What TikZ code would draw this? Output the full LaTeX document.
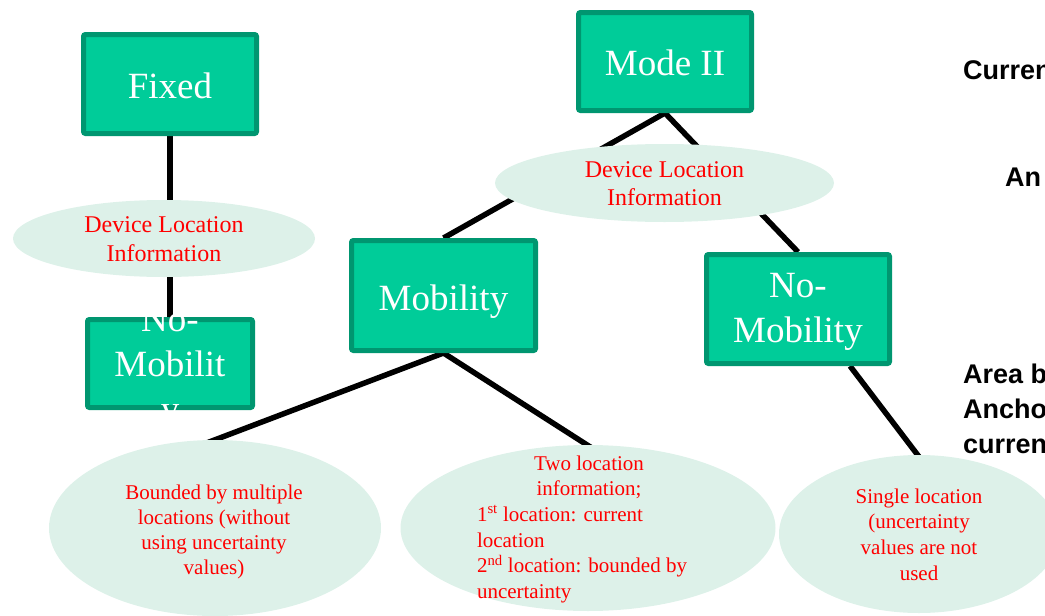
\documentclass[tikz,border=0pt]{standalone}
\usepackage{fontspec}
\setmainfont{Liberation Serif}
\setsansfont{Liberation Sans}
\usetikzlibrary{shapes.geometric,backgrounds}
\definecolor{boxfill}{RGB}{0,204,153}
\definecolor{boxline}{RGB}{0,150,112}
\definecolor{ovalfill}{RGB}{221,241,233}
\definecolor{redtxt}{RGB}{255,0,0}
\tikzset{
  greenbox/.style={draw=boxline, fill=boxfill, line width=5pt, rounded corners=2pt, inner sep=0pt},
  oval/.style={ellipse, fill=ovalfill, inner sep=0pt},
  boxtext/.style={text=white, font=\fontsize{37}{45}\selectfont, align=center, inner sep=0pt},
  ovaltext/.style={text=redtxt, font=\fontsize{21}{25.5}\selectfont, align=center, inner sep=0pt},
  sidetext/.style={font=\sffamily\bfseries\fontsize{27}{35}\selectfont, text=black, inner sep=0pt, align=left},
  conn/.style={line width=5.5pt, black},
}
\begin{document}
\begin{tikzpicture}[x=1pt,y=-1pt]
\useasboundingbox (0,0) rectangle (1045,616);

% green boxes
\node[greenbox, minimum width=173pt, minimum height=99pt] (fixed) at (170,84) {};
\node[greenbox, minimum width=165pt, minimum height=88pt] (nomobA) at (170,363.5) {};
\node[greenbox, minimum width=173pt, minimum height=98pt] (mode) at (665,61.5) {};
\node[greenbox, minimum width=184pt, minimum height=110pt] (mob) at (443.5,295.5) {};
\node[greenbox, minimum width=183pt, minimum height=109pt] (nomobB) at (798,309) {};

% ellipses
\node[oval, minimum width=302pt, minimum height=77pt] (infoA) at (164,238.5) {};
\node[oval, minimum width=339pt, minimum height=78pt] (infoB) at (664.5,183) {};
\node[oval, minimum width=332pt, minimum height=176pt] (bounded) at (215,528) {};
\node[oval, minimum width=375pt, minimum height=166pt] (two) at (588,528) {};
\node[oval, minimum width=280pt, minimum height=158pt] (single) at (919,534) {};

% connector end points hidden under the ellipses
\coordinate (endBounded) at (200,445.5);
\coordinate (endTwo) at (595,450);
\coordinate (endSingle) at (923,462);

% connectors
\begin{scope}[on background layer]
  \draw[conn] (fixed.south) -- (nomobA.north);
  \draw[conn] (mode.south) -- (mob.north);
  \draw[conn] (mode.south) -- (nomobB.north);
  \draw[conn] (mob.south) -- (endBounded);
  \draw[conn] (mob.south) -- (endTwo);
  \draw[conn] ([xshift=52pt]nomobB.south) -- (endSingle);
\end{scope}

% box labels
\node[boxtext] (fixedT) at (170,85.4) {Fixed};
\node[boxtext] (nomobAT) at (170,368.8) {No-\\Mobilit\\y};
\node[boxtext] (modeT) at (665,62.4) {Mode II};
\node[boxtext] (mobT) at (443.5,301.3) {Mobility};
\node[boxtext] (nomobBT) at (798,312.3) {No-\\Mobility};

% ellipse labels
\node[ovaltext, font=\fontsize{24}{29}\selectfont] (infoAT) at (164,239.3) {Device Location\\Information};
\node[ovaltext, font=\fontsize{24}{28}\selectfont] (infoBT) at (664.5,183.3) {Device Location\\Information};
\node[ovaltext, font=\fontsize{21}{25}\selectfont] (boundedT) at (214,532.2) {Bounded by multiple\\locations (without\\using uncertainty\\values)};
\node[ovaltext, align=left, font=\fontsize{21}{25.6}\selectfont] (twoT) at (589,529.2)
  {\makebox[224pt][c]{Two location}\\\makebox[224pt][c]{information;}\\1\textsuperscript{st} location: current\\location\\2\textsuperscript{nd} location: bounded by\\uncertainty};
\node[ovaltext, font=\fontsize{21}{25.7}\selectfont] (singleT) at (919,534.4) {Single location\\(uncertainty\\values are not\\used};

% clipped side texts
\node[sidetext, anchor=base west] (sideA) at (963,79) {Curren};
\node[sidetext, anchor=base west] (sideB) at (1005,186) {An};
\node[sidetext, anchor=north west] (sideC) at (963,363.5) {Area b\\Ancho\\curren};
\end{tikzpicture}
\end{document}
